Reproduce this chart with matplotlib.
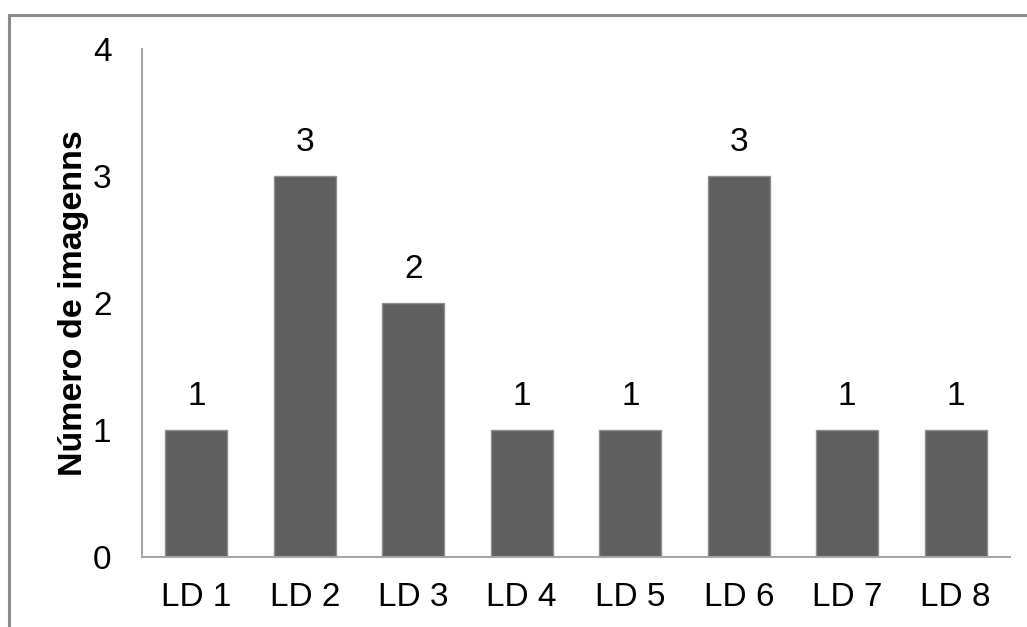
import matplotlib
matplotlib.use("Agg")
import matplotlib.pyplot as plt
from matplotlib.patches import Rectangle

categories = ["LD 1", "LD 2", "LD 3", "LD 4", "LD 5", "LD 6", "LD 7", "LD 8"]
counts = [1, 3, 2, 1, 1, 3, 1, 1]
y_ticks = [0, 1, 2, 3, 4]
y_label = "Número de imagenns"

plt.rcParams["font.family"] = ["Liberation Sans", "DejaVu Sans"]

W, H = 1027, 627
fig = plt.figure(figsize=(W / 100, H / 100), dpi=100)

# outer chart frame (runs off the right and bottom edges)
fig.patches.append(Rectangle((9 / W, -0.05), 1.1, (H - 15) / H + 0.05,
                             transform=fig.transFigure, fill=False,
                             edgecolor="#8c8c8c", linewidth=2.2, zorder=0))

ax = fig.add_axes([142 / W, (H - 557) / H, (1010 - 142) / W, (557 - 49) / H])

x = range(len(categories))
bars = ax.bar(x, counts, width=0.57, color="#5f5f5f", edgecolor="#8f8f8f",
              linewidth=1.0, zorder=2)

for xi, v in zip(x, counts):
    ax.annotate(str(v), (xi, v), xytext=(0, 13), textcoords="offset points",
                ha="center", va="bottom", fontsize=24, color="black")

ax.set_xlim(-0.5, len(categories) - 0.5)
ax.set_ylim(0, 4)
ax.set_yticks(y_ticks)
ax.set_yticklabels([str(t) for t in y_ticks])
ax.set_xticks(list(x))
ax.set_xticklabels(categories)

ax.tick_params(axis="both", length=0, labelsize=24, colors="black")
ax.tick_params(axis="y", pad=22)
ax.tick_params(axis="x", pad=18)

for side in ("top", "right"):
    ax.spines[side].set_visible(False)
for side in ("left", "bottom"):
    ax.spines[side].set_color("#a6a6a6")
    ax.spines[side].set_linewidth(1.5)

ax.set_ylabel(y_label, fontsize=24.5, fontweight="bold", labelpad=3)

fig.savefig("out.png", dpi=100)
